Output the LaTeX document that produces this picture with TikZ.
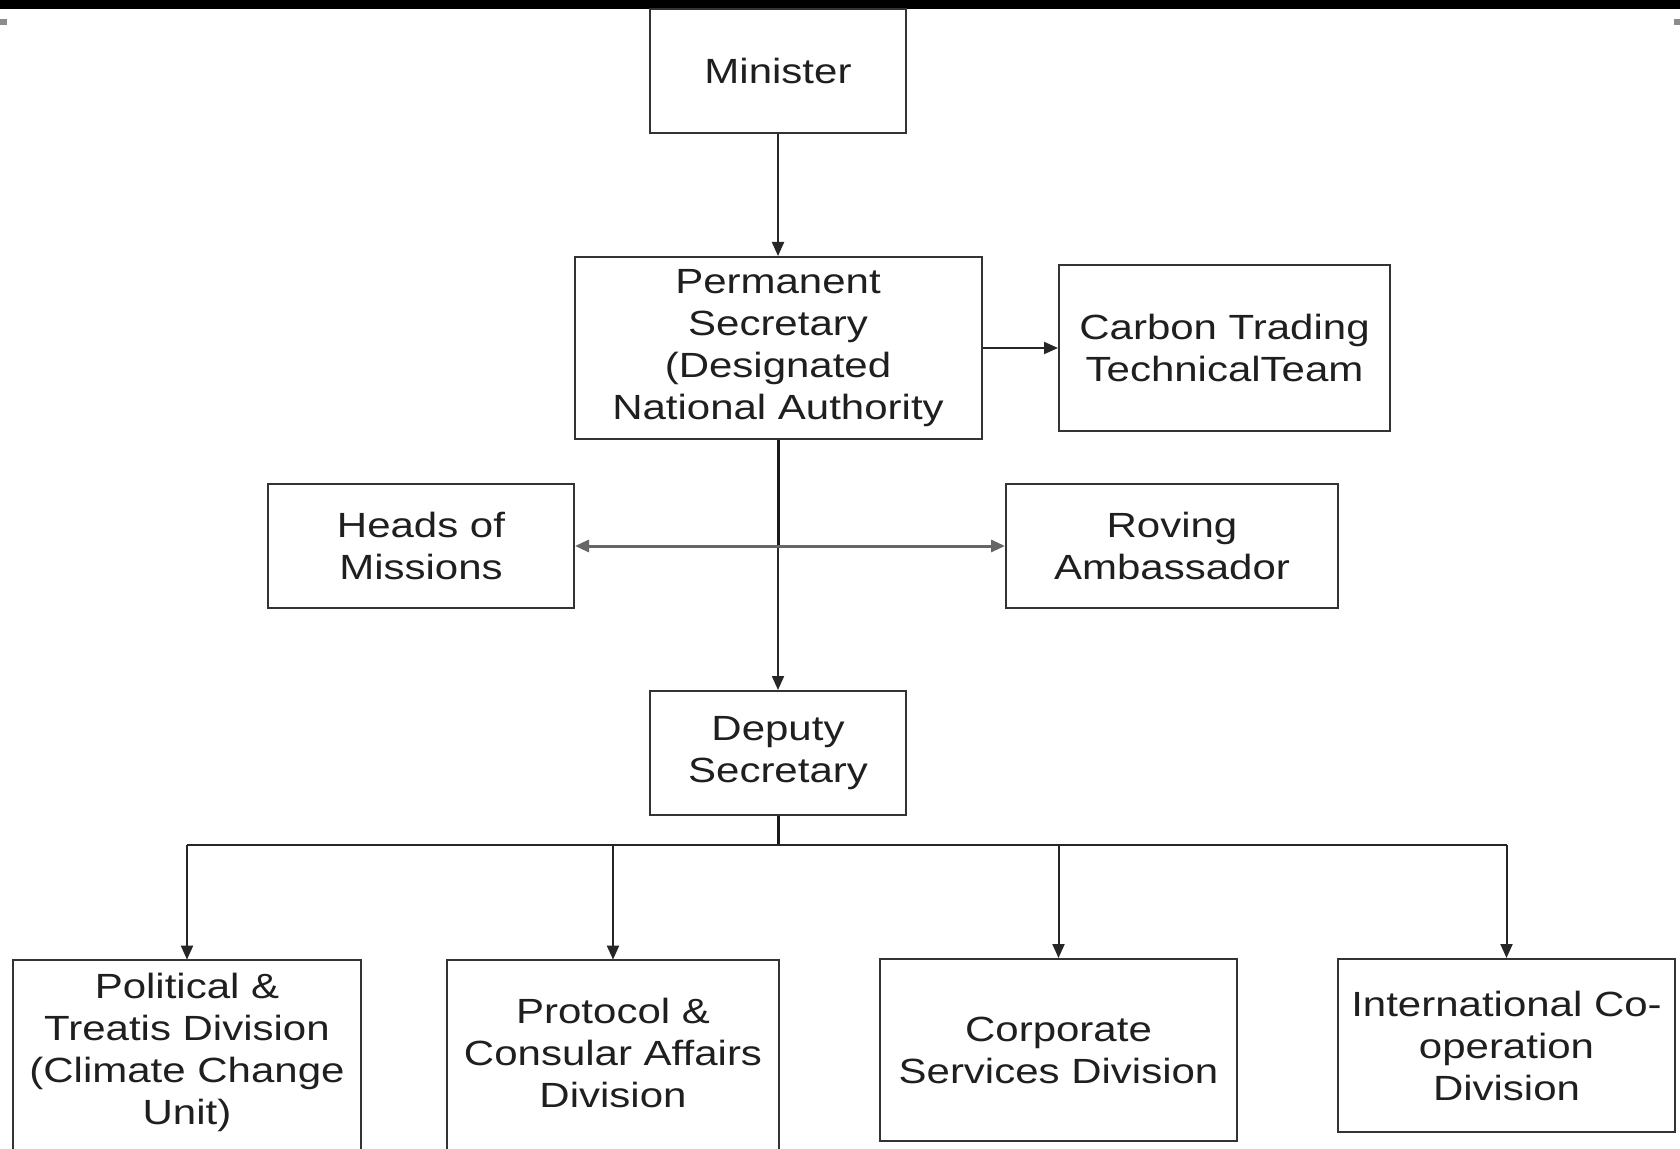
\documentclass[tikz,border=0pt]{standalone}
\usepackage{fontspec}
\setmainfont[FakeStretch=1.2]{Liberation Sans}
\usetikzlibrary{arrows.meta}
\begin{document}
\begin{tikzpicture}[x=0.5pt,y=-0.5pt,
 boxline/.style={draw=black!80, line width=1pt},
 box/.style={boxline, fill=white, align=center, inner sep=0pt, font=\fontsize{17.5pt}{21pt}\selectfont, text=black!88},
 obox/.style={align=center, inner sep=0pt, font=\fontsize{17.5pt}{21pt}\selectfont, text=black!88},
 arr/.style={line width=1pt, draw=black!85, -{Triangle[length=7pt,width=6pt]}},
 darr/.style={line width=1.5pt, draw=black!60, {Triangle[length=7pt,width=6pt]}-{Triangle[length=7pt,width=6pt]}},
 trunk/.style={line width=1.5pt, draw=black!90},
]
\fill[white] (0,0) rectangle (1680,1149);
\useasboundingbox (0,0) rectangle (1680,1149);
\fill[black] (0,0) rectangle (1680,9);
\fill[black!45] (0,19) rectangle (7,25);
\fill[black!45] (1674,19) rectangle (1680,25);

\node[box, minimum width=128pt, minimum height=62pt] (min) at (778,71) {Minister};
\node[box, minimum width=203.5pt, minimum height=91pt] (ps) at (778,348) {Permanent\\Secretary\\(Designated\\National Authority};
\node[box, minimum width=165.5pt, minimum height=83pt] (ctt) at (1224.5,348) {Carbon Trading\\TechnicalTeam};
\node[box, minimum width=153pt, minimum height=61.5pt] (hom) at (421,546) {Heads of\\Missions};
\node[box, minimum width=166pt, minimum height=61.5pt] (rov) at (1172,546) {Roving\\Ambassador};
\node[box, minimum width=128pt, minimum height=62pt] (dep) at (778,753) {Deputy\\Secretary};

\node[obox, minimum width=174pt, minimum height=92pt] (pol) at (187,1052) {Political \&\\Treatis Division\\(Climate Change\\Unit)};
\draw[boxline] ([yshift=-30pt]pol.south west) -- (pol.north west) -- (pol.north east) -- ([yshift=-30pt]pol.south east);
\node[obox, minimum width=166pt, minimum height=93pt] (pro) at (613,1053) {Protocol \&\\Consular Affairs\\Division};
\draw[boxline] ([yshift=-30pt]pro.south west) -- (pro.north west) -- (pro.north east) -- ([yshift=-30pt]pro.south east);
\node[box, minimum width=178.5pt, minimum height=91pt] (cor) at (1058.5,1050) {Corporate\\Services Division};
\node[box, minimum width=168.5pt, minimum height=86.5pt] (int) at (1506.5,1045.5) {International Co-\\operation\\Division};

\draw[arr] (min.south) -- (ps.north);
\draw[arr] (ps.east) -- (ps.east -| ctt.west);
\coordinate (mid) at (ps.south |- hom.east);
\draw[trunk] (ps.south) -- (mid);
\draw[arr] (mid) -- (dep.north);
\draw[darr] (hom.east) -- (rov.west);

\coordinate (bus) at (778,845);
\draw[trunk] (dep.south) -- (bus);
\draw[line width=1pt, draw=black!85] (pol.north |- bus) -- (int.north |- bus);
\draw[arr] (pol.north |- bus) -- (pol.north);
\draw[arr] (pro.north |- bus) -- (pro.north);
\draw[arr] (cor.north |- bus) -- (cor.north);
\draw[arr] (int.north |- bus) -- (int.north);
\end{tikzpicture}
\end{document}
